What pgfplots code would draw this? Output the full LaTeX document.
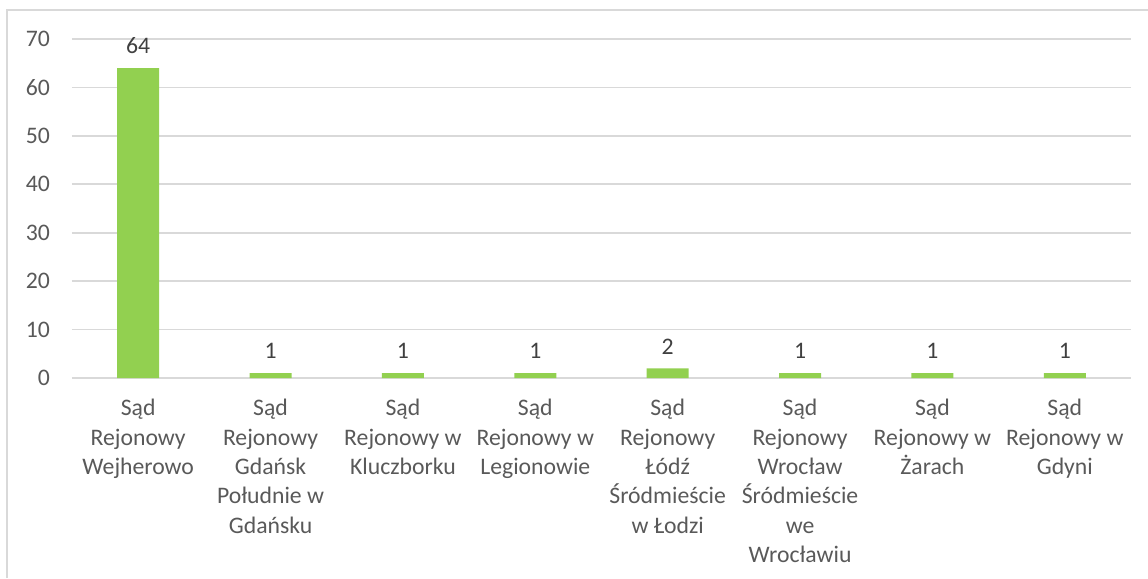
\documentclass[border=0pt]{standalone}
\usepackage{fontspec}
\setmainfont{Carlito}
\usepackage{pgfplots}
\pgfplotsset{compat=1.18}
\definecolor{barg}{HTML}{92D050}
\definecolor{gridc}{HTML}{D9D9D9}
\definecolor{tickc}{HTML}{595959}
\definecolor{lblc}{HTML}{404040}
\begin{document}
\begin{tikzpicture}[x=1bp,y=1bp]
\begin{axis}[
  at={(0,0)}, anchor=south west,
  scale only axis,
  width=529.5bp, height=169.5bp,
  ybar, bar width=21bp,
  xmin=-0.5, xmax=7.5,
  ymin=0, ymax=70,
  ytick={0,10,...,70},
  xtick=data,
  xticklabels={
    {Sąd\\Rejonowy\\Wejherowo},
    {Sąd\\Rejonowy\\Gdańsk\\Południe w\\Gdańsku},
    {Sąd\\Rejonowy w\\Kluczborku},
    {Sąd\\Rejonowy w\\Legionowie},
    {Sąd\\Rejonowy\\Łódź\\Śródmieście\\w Łodzi},
    {Sąd\\Rejonowy\\Wrocław\\Śródmieście\\we\\Wrocławiu},
    {Sąd\\Rejonowy w\\Żarach},
    {Sąd\\Rejonowy w\\Gdyni}},
  x tick label style={align=center, font=\fontsize{11.9}{14.8}\selectfont, text=tickc, yshift=-7bp},
  y tick label style={font=\fontsize{11.9}{14.8}\selectfont, text=tickc, xshift=-7.5bp},
  /pgf/number format/assume math mode=true,
  axis line style={draw=none},
  major tick length=0pt,
  ymajorgrids=true,
  grid style={gridc, line width=0.8bp},
  nodes near coords,
  every node near coord/.append style={font=\fontsize{11.9}{14.8}\selectfont, text=lblc, yshift=3.6bp},
  clip=false,
]
\addplot[fill=barg, draw=none] coordinates {(0,64) (1,1) (2,1) (3,1) (4,2) (5,1) (6,1) (7,1)};
\end{axis}
\draw[gridc, line width=0.8bp] (-32.5,-100) -- (-32.5,184) -- (538,184);
\pgfresetboundingbox
\path (-36,-100) rectangle (538,189);
\end{tikzpicture}
\end{document}
